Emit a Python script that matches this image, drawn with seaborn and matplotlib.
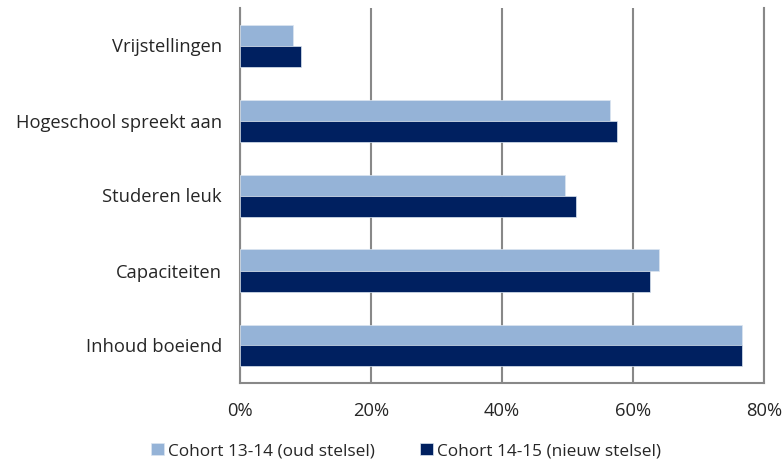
import numpy as np
import pandas as pd
import matplotlib
matplotlib.use('Agg')
import matplotlib.pyplot as plt
import seaborn as sns
from matplotlib.ticker import PercentFormatter

# data
categories = ['Vrijstellingen', 'Hogeschool spreekt aan', 'Studeren leuk',
              'Capaciteiten', 'Inhoud boeiend']
cohort_1314 = [8.1, 56.5, 49.6, 63.9, 76.7]
cohort_1415 = [9.3, 57.5, 51.3, 62.6, 76.7]
series = ['Cohort 13-14 (oud stelsel)', 'Cohort 14-15 (nieuw stelsel)']

df = pd.DataFrame({
    'categorie': categories * 2,
    'waarde': cohort_1314 + cohort_1415,
    'cohort': [series[0]] * 5 + [series[1]] * 5,
})

sns.set_style('white')
plt.rcParams['font.family'] = ['Open Sans', 'DejaVu Sans']

fig = plt.figure(figsize=(7.84, 4.68), dpi=100)
ax = fig.add_axes([240/784, 1-383/468, 524/784, 375/468])

sns.barplot(data=df, y='categorie', x='waarde', hue='cohort',
            order=categories, hue_order=series,
            palette=['#95B3D7', '#002060'], saturation=1, width=0.56,
            orient='h', ax=ax, zorder=3, edgecolor='#dce6f1', linewidth=0.5)

ax.set_xlim(0, 80)
ax.set_xticks(np.arange(0, 81, 20))
ax.xaxis.set_major_formatter(PercentFormatter(decimals=0))
ax.grid(axis='x', color='#888888', linewidth=1.5, zorder=0)
ax.set_xlabel('')
ax.set_ylabel('')
ax.tick_params(axis='both', labelsize=13.2, length=0)
ax.tick_params(axis='y', pad=13)
ax.tick_params(axis='x', pad=14)

for side in ['left', 'bottom', 'right']:
    ax.spines[side].set_color('#888888')
    ax.spines[side].set_linewidth(1.5)
ax.spines['top'].set_visible(False)

handles, labels = ax.get_legend_handles_labels()
ax.legend(handles, labels, loc='lower center', bbox_to_anchor=(406/784, -0.014),
          bbox_transform=fig.transFigure, ncol=2, frameon=False, fontsize=12.4,
          handlelength=0.75, handleheight=0.75, handletextpad=0.25, columnspacing=2.6)

plt.savefig('out.png', dpi=100)
